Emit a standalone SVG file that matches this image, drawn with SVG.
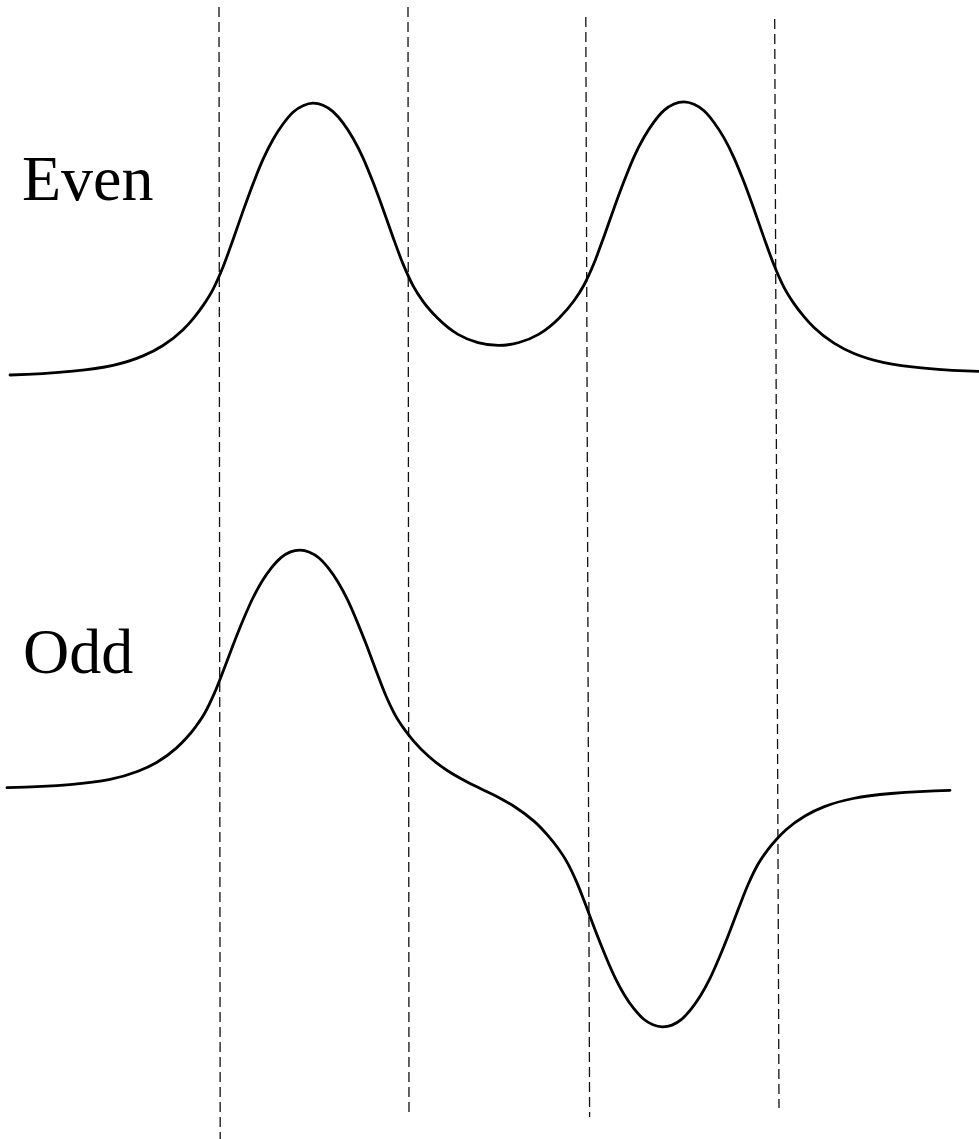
<svg xmlns="http://www.w3.org/2000/svg" width="979" height="1139" viewBox="0 0 979 1139">
<style>
.bg{fill:#ffffff}
.guide{stroke:#111;stroke-width:1.3;stroke-dasharray:10 5;fill:none}
.curve{stroke:#000;stroke-width:2.8;fill:none;stroke-linecap:round;stroke-linejoin:round}
.lbl{font-family:"Liberation Serif","Times New Roman",serif;font-size:64px;fill:#000}
</style>
<rect class="bg" x="0" y="0" width="979" height="1139"/>
<g id="guides">
<line class="guide" x1="219" y1="7" x2="220.2" y2="1139"/>
<line class="guide" x1="408" y1="7" x2="409" y2="1117"/>
<line class="guide" x1="585.8" y1="17" x2="589.6" y2="1117"/>
<line class="guide" x1="774.7" y1="19" x2="779" y2="1108"/>
</g>
<g id="even">
<path class="curve" d="M10,375 C31,374.35 52,373.18 73,371.1 C86.33,369.78 99.67,368.23 113,365.3 C123,363.1 133,360.15 143,355.9 C149.67,353.07 156.33,349.79 163,345.5 C169.67,341.21 176.33,336.25 183,329.7 C186.33,326.42 189.67,322.8 193,318.8 C196.33,314.8 199.67,310.5 203,305.6 C206.33,300.7 209.67,295.73 213,289.3 C216.33,282.87 219.67,275.27 223,267 C226.33,258.73 229.67,249 233,239.7 C236.33,230.4 239.67,220.4 243,211.1 C246.33,201.8 249.67,192.53 253,183.9 C256.33,175.27 259.67,166.8 263,159.4 C266.33,152 269.67,145.4 273,139.5 C276.33,133.6 279.67,128.53 283,124 C286.33,119.47 289.67,115.25 293,112.2 C296.33,109.15 299.67,107.17 303,105.7 C306.33,104.23 309.67,103.1 313,103.1 C316.33,103.1 319.67,103.8 323,105.2 C326.33,106.6 329.67,108.62 333,111.6 C336.33,114.58 339.67,118.43 343,122.9 C346.33,127.37 349.67,132.47 353,138.3 C356.33,144.13 359.67,150.5 363,157.8 C366.33,165.1 369.67,173.6 373,182.1 C376.33,190.6 379.67,199.8 383,209 C386.33,218.2 389.67,228.03 393,237.2 C396.33,246.37 399.67,255.8 403,263.9 C406.33,272 409.67,279.33 413,285.6 C416.33,291.87 419.67,296.73 423,301.4 C428,308.4 433,313.6 438,318.6 C444.67,325.27 451.33,330.5 458,334.4 C464.67,338.3 471.33,340.8 478,342.6 C484.83,344.44 491.67,345.4 498.5,345.4 C505.33,345.4 512.17,344.39 519,342.5 C525.67,340.66 532.33,338.03 539,334.1 C545.67,330.17 552.33,324.87 559,318.2 C564,313.2 569,307.8 574,300.8 C577.33,296.13 580.67,291.27 584,285 C587.33,278.73 590.67,271.4 594,263.3 C597.33,255.2 600.67,245.57 604,236.4 C607.33,227.23 610.67,217.4 614,208.2 C617.33,199 620.67,189.83 624,181.3 C627.33,172.77 630.67,164.13 634,156.8 C637.33,149.47 640.67,143.13 644,137.3 C647.33,131.47 650.67,126.4 654,121.9 C657.33,117.4 660.67,113.4 664,110.4 C667.33,107.4 670.67,105.43 674,104 C677.33,102.57 680.67,101.9 684,101.9 C687.33,101.9 690.67,102.86 694,104.3 C697.33,105.74 700.67,107.77 704,110.8 C707.33,113.83 710.67,117.97 714,122.5 C717.33,127.03 720.67,132.02 724,137.9 C727.33,143.78 730.67,150.43 734,157.8 C737.33,165.17 740.67,173.5 744,182.1 C747.33,190.7 750.67,200.02 754,209.3 C757.33,218.58 760.67,228.62 764,237.9 C767.33,247.18 770.67,256.77 774,265 C777.33,273.23 780.67,280.87 784,287.3 C787.33,293.73 790.67,298.72 794,303.6 C797.33,308.48 800.67,312.62 804,316.6 C807.33,320.58 810.67,324.25 814,327.5 C820.67,334.01 827.33,338.86 834,343.1 C840.67,347.34 847.33,350.71 854,353.5 C864,357.68 874,360.46 884,362.6 C897.33,365.45 910.67,366.87 924,368.1 C942.33,369.79 960.67,370.93 979,371.3"/>
<text class="lbl" x="22" y="200">Even</text>
</g>
<g id="odd">
<path class="curve" d="M7,787.7 C28,787.18 49,786.45 70,784.6 C83.33,783.43 96.67,782.07 110,779.4 C119.33,777.53 128.67,774.93 138,771.3 C144.33,768.84 150.67,765.94 157,762.2 C163.33,758.46 169.67,754.12 176,748.4 C179.23,745.48 182.47,742.35 185.7,738.8 C188.87,735.31 192.03,731.61 195.2,727.3 C198.4,722.95 201.6,718.7 204.8,713 C207.97,707.36 211.13,700.63 214.3,693.4 C217.47,686.17 220.63,677.65 223.8,669.5 C226.97,661.35 230.13,652.55 233.3,644.4 C236.5,636.18 239.7,628.12 242.9,620.5 C246.07,612.96 249.23,605.5 252.4,599 C255.57,592.5 258.73,586.67 261.9,581.5 C265.07,576.33 268.23,571.88 271.4,567.9 C274.6,563.88 277.8,560.29 281,557.6 C284.17,554.94 287.33,553.17 290.5,551.9 C293.67,550.63 296.83,550.2 300,550.2 C303.17,550.2 306.33,550.9 309.5,552.2 C312.68,553.5 315.87,555.3 319.05,558 C322.23,560.7 325.42,564.36 328.6,568.4 C331.77,572.42 334.93,576.97 338.1,582.2 C341.27,587.43 344.43,593.34 347.6,599.9 C350.77,606.46 353.93,614 357.1,621.6 C360.3,629.28 363.5,637.28 366.7,645.6 C369.87,653.84 373.03,662.66 376.2,670.9 C379.37,679.14 382.53,687.85 385.7,695.2 C388.87,702.55 392.03,709.3 395.2,715.1 C398.4,720.96 401.6,725.39 404.8,729.9 C407.97,734.37 411.13,738.19 414.3,741.9 C419.07,747.48 423.83,752.1 428.6,756.3 C434.93,761.87 441.27,766.65 447.6,770.7 C453.97,774.78 460.33,778.32 466.7,781.7 C471.53,784.26 476.37,786.48 481.2,788.9 C486.23,791.42 491.27,793.53 496.3,796.2 C502.67,799.58 509.03,803.12 515.4,807.2 C521.77,811.28 528.13,815.99 534.5,821.6 C539.07,825.62 543.63,830.6 548.2,835.9 C551.37,839.58 554.53,843.36 557.7,847.8 C560.9,852.28 564.1,856.78 567.3,862.6 C570.47,868.37 573.63,875.08 576.8,882.4 C579.97,889.72 583.13,898.39 586.3,906.6 C589.47,914.81 592.63,923.59 595.8,931.8 C599,940.09 602.2,948.02 605.4,955.7 C608.57,963.3 611.73,970.77 614.9,977.3 C618.07,983.83 621.23,989.7 624.4,994.9 C627.57,1000.1 630.73,1004.71 633.9,1008.7 C637.1,1012.73 640.3,1016.28 643.5,1019 C646.67,1021.69 649.83,1023.5 653,1024.8 C656.17,1026.1 659.33,1026.8 662.5,1026.8 C665.67,1026.8 668.83,1026.37 672,1025.1 C675.17,1023.83 678.33,1022.06 681.5,1019.4 C684.7,1016.71 687.9,1013.2 691.1,1009.2 C694.27,1005.24 697.43,1000.75 700.6,995.6 C703.77,990.45 706.93,984.66 710.1,978.2 C713.27,971.74 716.43,964.32 719.6,956.8 C722.8,949.2 726,941.2 729.2,933 C732.37,924.88 735.53,916.12 738.7,908 C741.87,899.88 745.03,891.4 748.2,884.2 C751.37,877 754.53,870.32 757.7,864.7 C760.9,859.02 764.1,854.72 767.3,850.4 C770.47,846.12 773.63,842.49 776.8,839 C779.97,835.51 783.13,832.35 786.3,829.5 C792.67,823.77 799.03,819.44 805.4,815.7 C811.73,811.98 818.07,809.05 824.4,806.6 C833.93,802.91 843.47,800.41 853,798.5 C865.7,795.96 878.4,794.61 891.1,793.5 C910.73,791.78 930.37,790.79 950,790.3"/>
<text class="lbl" x="23" y="673">Odd</text>
</g>
</svg>
